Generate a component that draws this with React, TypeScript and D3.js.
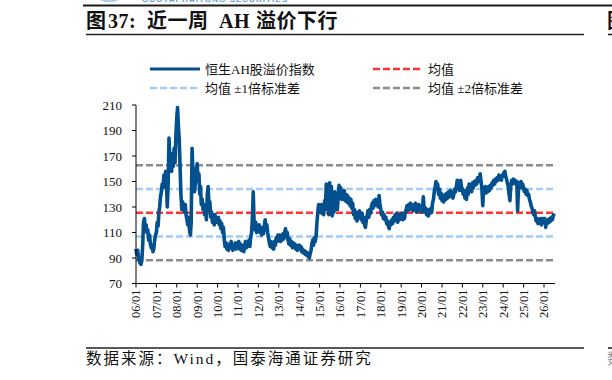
import React from "react";
import * as d3 from "d3";

// Hang Seng AH premium index, semi-monthly readings (1st and 15th of each month)
const ah2006 = [97, 93, 96, 90, 88, 86, 85, 88, 100, 118, 121, 114, 116, 110, 112, 104, 108, 101, 98, 100, 95, 97, 104, 108];
const ah2007 = [110, 118, 115, 126, 130, 138, 142, 148, 145, 155, 150, 158, 148, 130, 150, 184, 165, 170, 158, 172, 162, 176, 165, 185];
const ah2008 = [200, 208, 192, 182, 160, 140, 128, 134, 130, 126, 132, 124, 120, 116, 122, 112, 108, 118, 176, 158, 146, 142, 150, 160];
const ah2009 = [164, 150, 156, 140, 146, 132, 136, 128, 132, 124, 128, 120, 140, 146, 130, 134, 122, 126, 118, 122, 116, 124, 118, 121];
const ah2010 = [118, 122, 116, 119, 113, 117, 110, 114, 104, 99, 102, 97, 100, 96, 101, 98, 103, 99, 96, 100, 98, 102, 97, 101];
const ah2011 = [99, 103, 97, 101, 96, 100, 98, 95, 99, 103, 98, 102, 100, 104, 99, 106, 110, 120, 142, 120, 112, 118, 110, 114];
const ah2012 = [112, 116, 110, 114, 108, 113, 109, 115, 120, 112, 116, 110, 106, 102, 99, 103, 98, 101, 97, 103, 100, 106, 103, 108];
const ah2013 = [104, 108, 103, 107, 104, 109, 105, 110, 113, 107, 110, 104, 101, 105, 100, 103, 98, 102, 99, 101, 97, 100, 96, 99];
const ah2014 = [100, 97, 99, 95, 97, 94, 96, 93, 95, 92, 94, 91, 90, 93, 96, 101, 104, 100, 106, 103, 108, 118, 126, 132];
const ah2015 = [130, 126, 132, 125, 128, 124, 135, 130, 148, 128, 145, 124, 149, 132, 146, 123, 140, 126, 142, 130, 136, 128, 138, 147];
const ah2016 = [140, 145, 136, 142, 138, 143, 135, 140, 134, 139, 133, 137, 131, 136, 129, 133, 124, 128, 121, 126, 119, 124, 122, 127];
const ah2017 = [124, 120, 125, 118, 122, 116, 114, 119, 123, 127, 122, 128, 125, 130, 133, 129, 135, 131, 136, 132, 134, 130, 139, 133];
const ah2018 = [128, 124, 126, 121, 124, 120, 122, 117, 119, 115, 113, 118, 116, 120, 117, 122, 119, 124, 121, 125, 118, 122, 120, 124];
const ah2019 = [122, 125, 120, 124, 121, 126, 128, 131, 127, 132, 128, 133, 129, 132, 127, 131, 128, 133, 126, 131, 128, 132, 127, 130];
const ah2020 = [129, 126, 138, 130, 126, 129, 124, 128, 123, 127, 125, 129, 126, 133, 136, 142, 146, 150, 144, 148, 140, 144, 137, 141];
const ah2021 = [135, 139, 134, 138, 140, 136, 141, 137, 142, 138, 143, 139, 141, 137, 140, 144, 142, 146, 151, 145, 148, 143, 151, 146];
const ah2022 = [144, 140, 143, 137, 141, 136, 145, 140, 148, 144, 146, 142, 149, 145, 150, 147, 151, 148, 153, 150, 152, 156, 150, 145];
const ah2023 = [131, 145, 142, 146, 141, 145, 142, 146, 143, 147, 145, 149, 147, 151, 148, 152, 150, 153, 151, 155, 152, 154, 151, 155];
const ah2024 = [154, 157, 158, 154, 152, 149, 146, 140, 135, 146, 151, 148, 152, 149, 151, 148, 150, 127, 144, 149, 146, 150, 145, 148];
const ah2025 = [145, 142, 144, 140, 143, 139, 140, 136, 134, 131, 129, 126, 124, 127, 122, 119, 121, 117, 120, 118, 121, 116, 119, 121];
const ah2026 = [118, 121, 114, 119, 117, 120, 118, 121, 119, 122, 120, 123, 125];

const seriesYears = [2006, 2007, 2008, 2009, 2010, 2011, 2012, 2013, 2014, 2015, 2016, 2017, 2018, 2019, 2020, 2021, 2022, 2023, 2024, 2025, 2026];
const seriesByYear = [ah2006, ah2007, ah2008, ah2009, ah2010, ah2011, ah2012, ah2013, ah2014, ah2015, ah2016, ah2017, ah2018, ah2019, ah2020, ah2021, ah2022, ah2023, ah2024, ah2025, ah2026];

// Long-run mean and standard deviation bands
const meanValue = 125.5;
const stdValue = 18.6;

const yTicks = [70, 90, 110, 130, 150, 170, 190, 210];
const xTickLabels = ["06/01", "07/01", "08/01", "09/01", "10/01", "11/01", "12/01", "13/01", "14/01", "15/01", "16/01", "17/01", "18/01", "19/01", "20/01", "21/01", "22/01", "23/01", "24/01", "25/01", "26/01"];

const legendLabels = ["恒生AH股溢价指数", "均值", "均值 ±1倍标准差", "均值 ±2倍标准差"];

const titlePieces = ["图", "37:", "近一周", "AH", "溢价下行"];
const sourceText = "数据来源：Wind，国泰海通证券研究";

const SERIF = "'Times New Roman', 'Liberation Serif', 'Noto Sans CJK SC', serif";
const BLUE = "#02508e";
const RED = "#ff3333";
const LIGHT = "#9fcdf7";
const GREY = "#8c8c8c";

type Pt = { date: Date; value: number };

export default function App() {
  const points: Pt[] = [];
  seriesByYear.forEach((vals, yi) => {
    vals.forEach((v, i) => {
      points.push({ date: new Date(seriesYears[yi], Math.floor(i / 2), i % 2 ? 15 : 1), value: v });
    });
  });

  const left = 136;
  const axisRight = 555;
  const top = 105;
  const bottom = 283.5;

  const x = d3.scaleTime().domain([new Date(2006, 0, 1), new Date(2026, 0, 1)]).range([left, 544]);
  const y = d3.scaleLinear().domain([70, 210]).range([bottom, top]);

  const line = d3
    .line<Pt>()
    .x((d) => x(d.date))
    .y((d) => y(d.value));

  const bands = [
    { v: meanValue + 2 * stdValue, c: GREY },
    { v: meanValue - 2 * stdValue, c: GREY },
    { v: meanValue + stdValue, c: LIGHT },
    { v: meanValue - stdValue, c: LIGHT },
    { v: meanValue, c: RED },
  ];

  const tickDates = xTickLabels.map((lab) => new Date(2000 + parseInt(lab.slice(0, 2), 10), 0, 1));

  const legendItems = [
    { lx: 150, ly: 69, color: BLUE, dashed: false, label: legendLabels[0] },
    { lx: 373, ly: 69, color: RED, dashed: true, label: legendLabels[1] },
    { lx: 150, ly: 88, color: LIGHT, dashed: true, label: legendLabels[2] },
    { lx: 373, ly: 88, color: GREY, dashed: true, label: legendLabels[3] },
  ];

  const titleX = [86, 108, 147, 219, 256];

  return (
    <svg
      width={612}
      height={380}
      style={{ position: "absolute", left: 0, top: 0, background: "#fff" }}
      fontFamily={SERIF}
    >
      {/* header strip */}
      <path d="M97 -3 Q108 5 121 -2" fill="none" stroke="#a7c8e8" strokeWidth={2} />
      <text x={142} y={2.3} fontSize={8} fill="#5f9bd3" textLength={145} lengthAdjust="spacing" fontFamily="'Liberation Sans', sans-serif" fontWeight="bold">
        GUOTAI HAITONG SECURITIES
      </text>
      <line x1={83} x2={612} y1={5.5} y2={5.5} stroke="#1a1a1a" strokeWidth={2} />

      {/* title */}
      <text y={28} fontSize={20} fontWeight="bold" fill="#111" letterSpacing={0.5}>
        {titlePieces.map((t, i) => (
          <tspan key={i} x={titleX[i]}>
            {t}
          </tspan>
        ))}
      </text>
      <line x1={86} x2={584} y1={34.5} y2={34.5} stroke="#222" strokeWidth={1.6} />
      <text x={607} y={28} fontSize={20} fontWeight="bold" fill="#111">图</text>
      <line x1={608} x2={612} y1={34.5} y2={34.5} stroke="#222" strokeWidth={1.6} />

      {/* legend */}
      {legendItems.map((it, i) => (
        <g key={i}>
          <line
            x1={it.lx}
            x2={it.lx + 50}
            y1={it.ly}
            y2={it.ly}
            stroke={it.color}
            strokeWidth={it.dashed ? 2.5 : 3}
            strokeDasharray={it.dashed ? "7 3" : undefined}
          />
          <text x={it.lx + 55} y={it.ly} dy="0.35em" fontSize={13} fill="#111">
            {it.label}
          </text>
        </g>
      ))}

      {/* reference bands */}
      {bands.map((b, i) => (
        <line
          key={i}
          x1={left}
          x2={axisRight}
          y1={y(b.v)}
          y2={y(b.v)}
          stroke={b.c}
          strokeWidth={2.5}
          strokeDasharray="7 3"
        />
      ))}

      {/* series */}
      <path d={line(points) || ""} fill="none" stroke={BLUE} strokeWidth={3.6} strokeLinejoin="round" />

      {/* y axis */}
      <line x1={left} x2={left} y1={top} y2={bottom} stroke="#000" strokeWidth={1} />
      {yTicks.map((t) => (
        <g key={t}>
          <line x1={left - 4} x2={left} y1={y(t)} y2={y(t)} stroke="#000" />
          <text x={122} y={y(t)} dy="0.35em" textAnchor="end" fontSize={13} fill="#111">
            {t}
          </text>
        </g>
      ))}

      {/* x axis */}
      <line x1={left} x2={axisRight} y1={bottom} y2={bottom} stroke="#000" strokeWidth={1} />
      {tickDates.map((d, i) => (
        <g key={i}>
          <line x1={x(d)} x2={x(d)} y1={bottom} y2={bottom + 4} stroke="#000" />
          <text
            transform={`translate(${x(d)},${bottom + 6}) rotate(-90)`}
            textAnchor="end"
            dy="0.35em"
            fontSize={12.5}
            fill="#111"
          >
            {xTickLabels[i]}
          </text>
        </g>
      ))}

      {/* source */}
      <line x1={86} x2={584} y1={348} y2={348} stroke="#222" strokeWidth={1.6} />
      <line x1={608} x2={612} y1={348} y2={348} stroke="#222" strokeWidth={1.6} />
      <text x={86} y={364} fontSize={15.5} fill="#111" letterSpacing={2}>
        {sourceText}
      </text>
      <text x={607} y={364} fontSize={15} fill="#999">数</text>
    </svg>
  );
}
